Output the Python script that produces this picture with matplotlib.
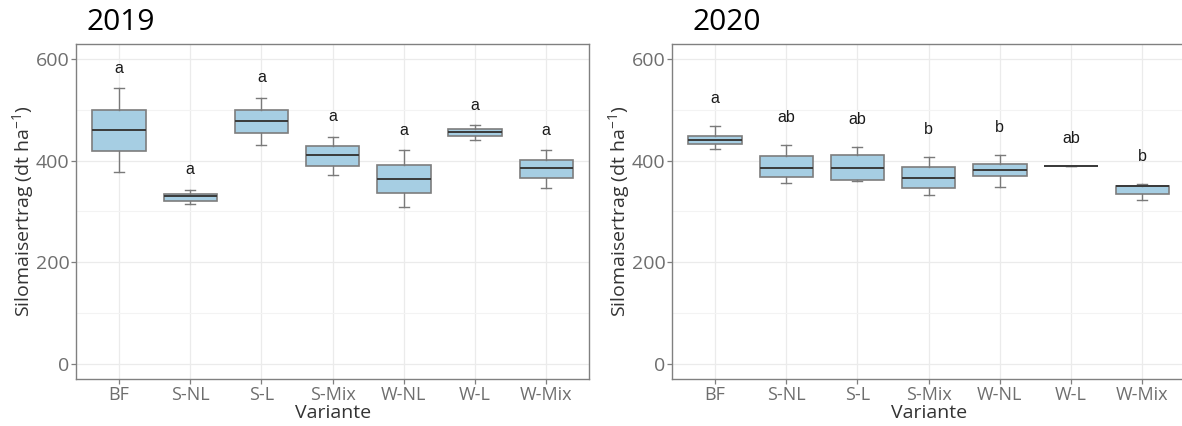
import numpy as np
import matplotlib
matplotlib.use('Agg')
import matplotlib.pyplot as plt

plt.rcParams['font.family'] = ['Open Sans', 'DejaVu Sans']
plt.rcParams['mathtext.fontset'] = 'custom'
plt.rcParams['mathtext.rm'] = 'Open Sans'
plt.rcParams['mathtext.default'] = 'regular'

varianten = ['BF', 'S-NL', 'S-L', 'S-Mix', 'W-NL', 'W-L', 'W-Mix']

# 2019 box statistics (dt/ha)
lo_2019 = [378, 315, 430, 371, 309, 440, 346]
q1_2019 = [419, 320, 454, 390, 336, 448, 365]
med_2019 = [460, 330, 478, 410, 364, 456, 385]
q3_2019 = [500, 335, 500, 428, 392, 462, 401]
hi_2019 = [542, 343, 523, 447, 420, 469, 420]
letters_2019 = ['a', 'a', 'a', 'a', 'a', 'a', 'a']

# 2020 box statistics (dt/ha)
lo_2020 = [422, 355, 359, 333, 347, 390, 323]
q1_2020 = [433, 367, 362, 346, 370, 390, 334]
med_2020 = [441, 386, 385, 365, 382, 390, 349]
q3_2020 = [449, 408, 410, 388, 393, 390, 350]
hi_2020 = [468, 430, 426, 407, 411, 390, 353]
letters_2020 = ['a', 'ab', 'ab', 'b', 'b', 'ab', 'b']

W, H = 1182, 426
fig = plt.figure(figsize=(W / 100, H / 100), dpi=100)

def px_axes(left, top, right, bottom):
    return fig.add_axes([left / W, 1 - bottom / H, (right - left) / W, (bottom - top) / H])

def panel(ax, lo, q1, med, q3, hi, letters, letter_off, title, title_x):
    stats = [dict(whislo=a, q1=b, med=c, q3=d, whishi=e, fliers=[])
             for a, b, c, d, e in zip(lo, q1, med, q3, hi)]
    pos = np.arange(1, len(stats) + 1)
    ax.bxp(stats, positions=pos, widths=0.75, capwidths=0.14, patch_artist=True,
           showfliers=False, manage_ticks=False,
           boxprops=dict(facecolor='#a6cee3', edgecolor='#7d7d7d', linewidth=1.2),
           medianprops=dict(color='#3a3a3a', linewidth=1.4),
           whiskerprops=dict(color='#7a7a7a', linewidth=1.0),
           capprops=dict(color='#7a7a7a', linewidth=1.0))
    for x, y, t in zip(pos, hi, letters):
        ax.text(x, y + letter_off, t, ha='center', va='center', fontsize=11.5,
                family='Liberation Sans', color='#1a1a1a')

    ax.set_xlim(0.4, len(stats) + 0.6)
    ax.set_ylim(-30, 630)
    ax.set_xticks(pos)
    ax.set_xticklabels(varianten)
    ax.set_yticks([0, 200, 400, 600])
    ax.set_yticks([100, 300, 500], minor=True)
    ax.tick_params(axis='both', which='major', length=3.5, width=0.9, color='#7f7f7f',
                   labelcolor='#6e6e6e', pad=1.5)
    ax.tick_params(axis='x', labelsize=13)
    ax.tick_params(axis='y', labelsize=14)
    ax.tick_params(axis='y', which='minor', length=0)
    ax.grid(True, which='major', color='#ebebeb', linewidth=0.9)
    ax.grid(True, which='minor', axis='y', color='#f3f3f3', linewidth=0.8)
    ax.set_axisbelow(True)
    for sp in ax.spines.values():
        sp.set_color('#808080')
        sp.set_linewidth(1.0)

    ax.set_ylabel(r'Silomaisertrag (dt ha$^{-1}$)', fontsize=14, color='#333333')
    ax.yaxis.set_label_coords(-0.104, 0.5)
    ax.yaxis.label.set_va('center')
    ax.set_xlabel('Variante', fontsize=14, color='#333333')
    ax.xaxis.set_label_coords(0.5, -0.1)
    ax.xaxis.label.set_va('center')

    fig.text(title_x / W, 1 - 23 / H, title, fontsize=21.5, color='black',
             ha='left', va='center')

ax1 = px_axes(76.3, 43.7, 589, 379)
panel(ax1, lo_2019, q1_2019, med_2019, q3_2019, hi_2019, letters_2019, 40, '2019', 86)

ax2 = px_axes(672.3, 43.7, 1185, 379)
panel(ax2, lo_2020, q1_2020, med_2020, q3_2020, hi_2020, letters_2020, 54, '2020', 693)

fig.savefig('out.png', dpi=100)
